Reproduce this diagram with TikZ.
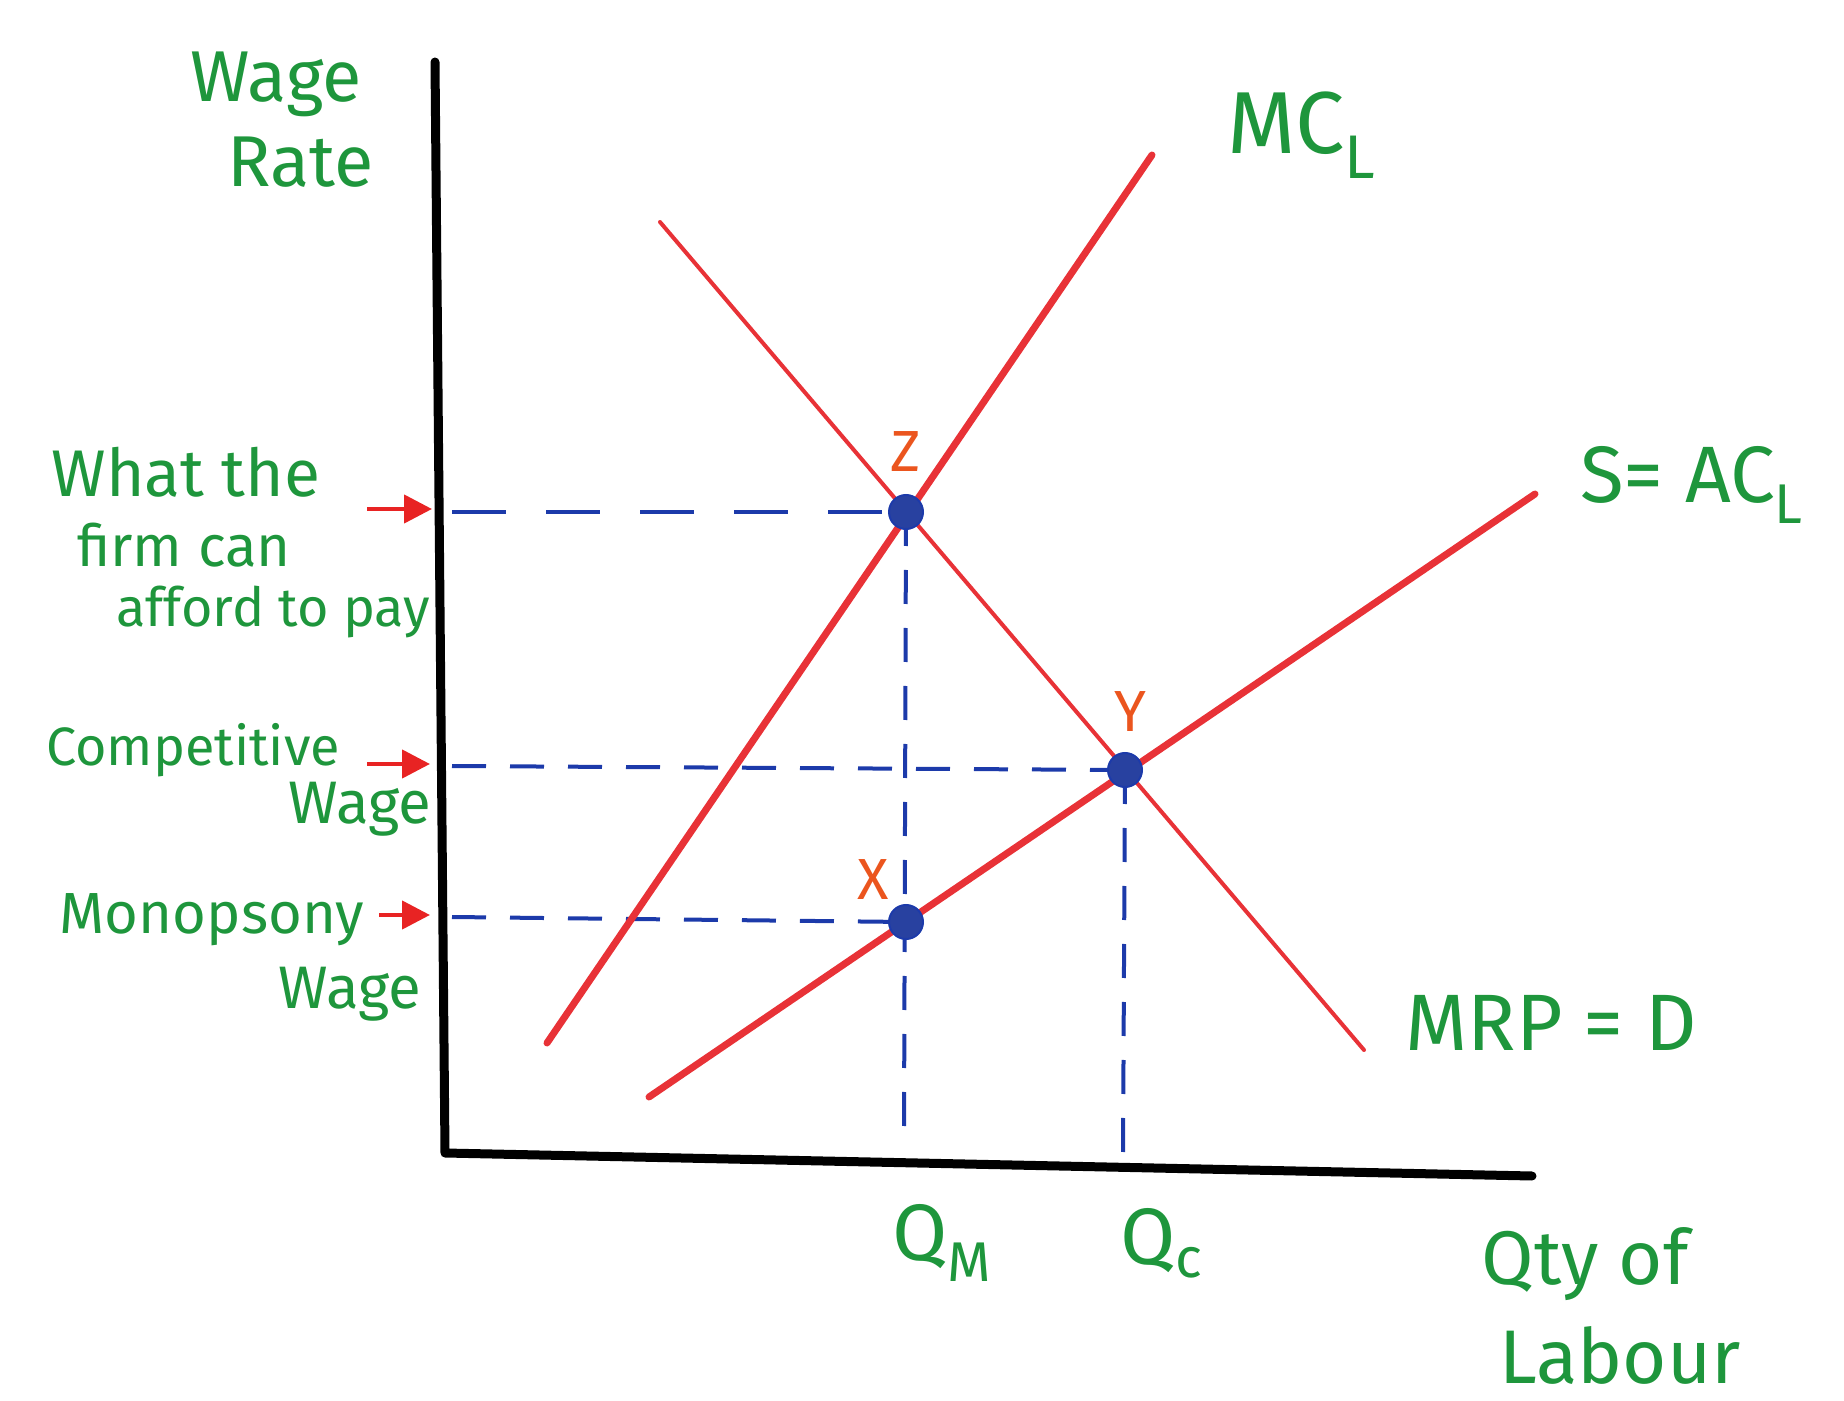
\documentclass[tikz,border=0pt]{standalone}
\usepackage{fontspec}
\setmainfont{Fira Sans}
\usetikzlibrary{arrows.meta}
\definecolor{pen}{RGB}{30,150,60}
\definecolor{curvered}{RGB}{232,50,55}
\definecolor{guideblue}{RGB}{28,58,170}
\definecolor{dotblue}{RGB}{40,65,160}
\definecolor{markorange}{RGB}{235,85,30}
\definecolor{arrowred}{RGB}{232,35,35}
\begin{document}
\begin{tikzpicture}[x=0.5pt,y=-0.5pt,
  lab/.style={text=pen, inner sep=0pt, font=\fontsize{#1}{#1}\selectfont},
  lab/.default=30,
  ptlab/.style={text=markorange, inner sep=0pt, font=\fontsize{29}{29}\selectfont},
  axisline/.style={line width=4.5pt, black, line join=round, line cap=round},
  thickcurve/.style={line width=3.5pt, curvered, line cap=round},
  thincurve/.style={line width=2pt, curvered, line cap=round},
  guide/.style={line width=2pt, guideblue, dash pattern=on 17pt off 12pt},
  longguide/.style={line width=2pt, guideblue, dash pattern=on 27pt off 20pt},
  pointer/.style={line width=2.2pt, arrowred, -{Triangle[length=14pt,width=14pt]}},
  dot/.style={circle, fill=dotblue, draw=guideblue, line width=1pt, minimum size=17pt, inner sep=0pt}
]
\useasboundingbox (0,0) rectangle (1844,1401);

% axes
\coordinate (ytop) at (435,62);
\coordinate (orig) at (445,1153);
\coordinate (xend) at (1532,1176);
\draw[axisline] (ytop) -- (orig) -- (xend);

% curve ends
\coordinate (mc1) at (547,1043);
\coordinate (mc2) at (1152,155);
\coordinate (mrp1) at (660,222);
\coordinate (mrp2) at (1364,1050);
\coordinate (s1) at (649,1097);
\coordinate (s2) at (1535,494);

% equilibrium points
\coordinate (Zp) at (906,512);
\coordinate (Yp) at (1125,770);
\coordinate (Xp) at (906,922);

% guide line ends
\coordinate (wz) at (452,512);
\coordinate (wc) at (452,766);
\coordinate (wm) at (452,917);
\coordinate (qm) at (904,1137);
\coordinate (qc) at (1123,1160);

% dashed guides
\draw[longguide] (wz) -- (Zp);
\draw[guide] (wc) -- (Yp);
\draw[guide] (wm) -- (Xp);
\draw[guide] (Zp) -- (qm);
\draw[guide] (Yp) -- (qc);

% curves
\draw[thickcurve] (mc1) -- (mc2);
\draw[thincurve] (mrp1) -- (mrp2);
\draw[thickcurve] (s1) -- (s2);

% dots
\node[dot] (Z) at (Zp) {};
\node[dot] (Y) at (Yp) {};
\node[dot] (X) at (Xp) {};

% point labels
\node[ptlab] (zl) at (906,452) {Z};
\node[ptlab] (yl) at (1130,712) {Y};
\node[ptlab] (xl) at (873,880) {X};

% axis labels
\node[lab=36] (wage) at (276,84) {Wage};
\node[lab=36] (rate) at (301,162) {Rate};
\node[lab=38] (qty) at (1585,1264) {Qty of};
\node[lab=38] (labour) at (1620,1355) {Labour};
\node[lab=40] (qmlab) at (942,1243) {Q\textsubscript{M}};
\node[lab=40] (qclab) at (1162,1243) {Q\textsubscript{c}};

% curve labels
\node[lab=44] (mcl) at (1302,135) {MC\textsubscript{L}};
\node[lab=40] (sl) at (1692,485) {S= AC\textsubscript{L}};
\node[lab=40] (mrpl) at (1551,1023) {MRP = D};

% left labels
\node[lab=33] (t1) at (186,472) {What the};
\node[lab=29] (t2) at (184,545) {firm can};
\node[lab=27] (t3) at (273,612) {afford to pay};
\node[lab=27] (c1) at (193,750) {Competitive};
\node[lab=30] (c2) at (360,809) {Wage};
\node[lab=29] (m1) at (212,920) {Monopsony};
\node[lab=30] (m2) at (350,994) {Wage};

% red pointers
\coordinate (a1s) at (367,509);
\coordinate (a1e) at (432,509);
\coordinate (a2s) at (367,764);
\coordinate (a2e) at (430,764);
\coordinate (a3s) at (379,915);
\coordinate (a3e) at (430,915);
\draw[pointer] (a1s) -- (a1e);
\draw[pointer] (a2s) -- (a2e);
\draw[pointer] (a3s) -- (a3e);
\end{tikzpicture}
\end{document}
